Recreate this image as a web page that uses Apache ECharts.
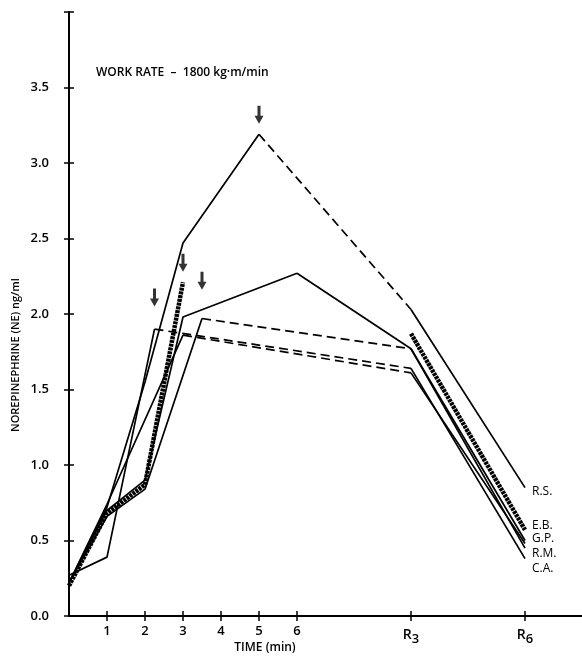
<!DOCTYPE html>
<html>
<head>
<meta charset="utf-8">
<script src="https://cdn.jsdelivr.net/npm/echarts@6/dist/echarts.min.js"></script>
<style>
  html, body { margin: 0; padding: 0; background: #fff; }
  #chart { width: 582px; height: 658px; }
</style>
</head>
<body>
<div id="chart"></div>
<script>
// Time axis: minutes of work, then recovery samples R3 / R6 placed at 9 and 12
const tickValues = [1, 2, 3, 4, 5, 6, 9, 12];
const tickLabels = ['1', '2', '3', '4', '5', '6', 'R3', 'R6'];
const yTicks = [0, 0.5, 1, 1.5, 2, 2.5, 3, 3.5];

// Subjects, in the order their labels are stacked at R6 ('' = unlabeled trace)
const subjectNames = ['R.S.', 'E.B.', 'G.P.', 'R.M.', 'C.A.', ''];

// Plasma NE (ng/ml) during work, up to exhaustion
const rsWork = [[0, 0.22], [1, 0.72], [2, 1.55], [3, 2.47], [5, 3.19]];
const ebWork = [[0, 0.20], [1, 0.68], [2, 0.87], [3, 2.21]];
const gpWork = [[0, 0.22], [1, 0.70], [2, 0.90], [3, 1.98], [6, 2.27]];
const rmWork = [[0, 0.22], [1, 0.66], [2, 0.84], [3.5, 1.97]];
const caWork = [[0, 0.27], [1, 0.39], [2.25, 1.90]];
const xxWork = [[0, 0.22], [1, 0.74], [3, 1.86]];

// Recovery samples at R3 and R6
const rsRecovery = [[9, 2.03], [12, 0.85]];
const ebRecovery = [[9, 1.87], [12, 0.57]];
const gpRecovery = [[9, 1.77], [12, 0.50]];
const rmRecovery = [[9, 1.77], [12, 0.45]];
const caRecovery = [[9, 1.64], [12, 0.38]];
const xxRecovery = [[9, 1.61], [12, 0.48]];

// How the last work sample joins the R3 sample
const joins = ['dashed', 'none', 'solid', 'dashed', 'dashed', 'dashed'];

// Exhaustion arrows (tip positions)
const arrowTips = [[2.25, 2.05], [3, 2.28], [3.5, 2.16], [5, 3.26]];

const workSets = [rsWork, ebWork, gpWork, rmWork, caWork, xxWork];
const recoverySets = [rsRecovery, ebRecovery, gpRecovery, rmRecovery, caRecovery, xxRecovery];

// vertical nudges that keep the stacked end labels apart
const labelNudge = [4, -4, -2, 6, 10, 0];

const FONT = '"Open Sans", "DejaVu Sans", sans-serif';
const INK = '#000';

function lineStyleFor(i, type) {
  if (subjectNames[i] === 'E.B.') {
    return { color: INK, width: 4.5, type: [3, 0.8] };
  }
  return { color: INK, width: 1.7, type: type === 'dashed' ? [9, 5] : 'solid' };
}

const series = [];
workSets.forEach((work, i) => {
  const rec = recoverySets[i];
  series.push({
    type: 'line', data: work, symbol: 'none', silent: true,
    lineStyle: lineStyleFor(i, 'solid'), z: 3
  });
  if (joins[i] !== 'none') {
    series.push({
      type: 'line', data: [work[work.length - 1], rec[0]], symbol: 'none', silent: true,
      lineStyle: lineStyleFor(i, joins[i]), z: 3
    });
  }
  series.push({
    type: 'line', data: rec, symbol: 'none', silent: true,
    lineStyle: lineStyleFor(i, 'solid'), z: 3,
    endLabel: {
      show: subjectNames[i] !== '',
      formatter: () => subjectNames[i],
      distance: 7,
      offset: [0, labelNudge[i]],
      color: INK,
      fontFamily: FONT,
      fontSize: 12
    }
  });
});

series.push({
  type: 'scatter',
  data: arrowTips,
  symbol: 'path://M3,0L6,0L6,10L9,10L4.5,18L0,10L3,10Z',
  symbolSize: [9, 18],
  symbolOffset: [0, '-50%'],
  itemStyle: { color: INK },
  silent: true,
  z: 5
});

function xLabel(v) {
  const k = tickValues.indexOf(v);
  if (k < 0) return '';
  const t = tickLabels[k];
  if (t.charAt(0) === 'R') return '{r|R}{s|' + t.slice(1) + '}';
  return t;
}

const xBase = {
  type: 'value', min: 0, max: 13.5,
  splitLine: { show: false },
  axisLine: { show: true, lineStyle: { color: INK, width: 2 } },
  axisTick: { show: true, inside: true, length: 5, customValues: tickValues, lineStyle: { color: INK, width: 1.5 } }
};

const option = {
  animation: false,
  backgroundColor: '#fff',
  grid: { left: 69, right: 0, top: 12, bottom: 42 },
  xAxis: [
    Object.assign({}, xBase, {
      position: 'bottom',
      axisLabel: {
        customValues: tickValues,
        formatter: xLabel,
        margin: 9,
        color: INK,
        fontFamily: FONT,
        fontSize: 13,
        fontWeight: 600,
        rich: {
          r: { fontFamily: FONT, fontSize: 14, color: INK },
          s: { fontFamily: FONT, fontSize: 13, color: INK, padding: [8, 0, 0, 0] }
        }
      }
    }),
    Object.assign({}, xBase, { position: 'top', axisLabel: { show: false } })
  ],
  yAxis: [
    {
      type: 'value', min: 0, max: 4, interval: 0.5, position: 'left',
      splitLine: { show: false },
      axisLine: { show: true, lineStyle: { color: INK, width: 2 } },
      axisTick: { show: true, inside: true, length: 5, lineStyle: { color: INK, width: 1.5 } },
      axisLabel: {
        formatter: v => (yTicks.indexOf(v) >= 0 ? v.toFixed(1) : ''),
        margin: 20, color: INK, fontFamily: FONT, fontSize: 13, fontWeight: 600
      }
    },
    {
      type: 'value', min: 0, max: 4, interval: 0.5, position: 'right',
      splitLine: { show: false },
      axisLine: { show: false },
      axisTick: { show: true, inside: true, length: 5, lineStyle: { color: INK, width: 1.5 } },
      axisLabel: { show: false }
    }
  ],
  graphic: [
    {
      type: 'text', x: 96, y: 73,
      style: { text: 'WORK RATE  –  1800 kg·m/min', font: '600 12px ' + FONT, fill: INK, textVerticalAlign: 'middle' }
    },
    {
      type: 'text', x: 265, y: 648,
      style: { text: 'TIME (min)', font: '600 12px ' + FONT, fill: INK, textAlign: 'center', textVerticalAlign: 'middle' }
    },
    {
      type: 'text', x: 16, y: 355, rotation: Math.PI / 2,
      style: { text: 'NOREPINEPHRINE (NE) ng/ml', font: '600 11px ' + FONT, fill: INK, textAlign: 'center', textVerticalAlign: 'middle' }
    }
  ],
  series: series
};

const chart = echarts.init(document.getElementById('chart'), null, { renderer: 'canvas' });
chart.setOption(option);
</script>
</body>
</html>
